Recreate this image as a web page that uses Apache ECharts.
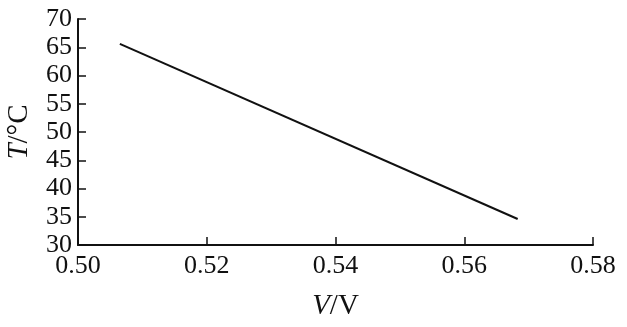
<!DOCTYPE html>
<html>
<head>
<meta charset="utf-8">
<script src="https://cdn.jsdelivr.net/npm/echarts@6/dist/echarts.min.js"></script>
<style>
  html, body { margin: 0; padding: 0; background: #fff; }
  #chart { width: 627px; height: 327px; }
</style>
</head>
<body>
<div id="chart"></div>
<script>
// voltage (V) vs temperature (°C)
var voltage = [0.5065, 0.5683];
var temperature = [65.6, 34.6];

var xTicks = { min: 0.50, max: 0.58, step: 0.02 };
var yTicks = { min: 30, max: 70, step: 5 };

var font = "'Liberation Serif', 'Times New Roman', serif";
var chart = echarts.init(document.getElementById('chart'));

var option = {
  backgroundColor: '#fff',
  animation: false,
  grid: { left: 78, right: 34, top: 19, bottom: 82, outerBoundsMode: 'none', containLabel: false },
  xAxis: {
    type: 'value',
    min: xTicks.min, max: xTicks.max, interval: xTicks.step,
    name: '{i|V}/V',
    nameLocation: 'middle',
    nameGap: 47,
    nameTextStyle: {
      fontFamily: font, fontSize: 29, color: '#111',
      rich: { i: { fontFamily: font, fontSize: 29, fontStyle: 'italic', color: '#111' } }
    },
    axisLine: { lineStyle: { color: '#111', width: 2 } },
    axisTick: { inside: true, length: 8, lineStyle: { color: '#111', width: 1.5 } },
    axisLabel: {
      fontFamily: font, fontSize: 26, color: '#111', margin: 8,
      formatter: function (v) { return v.toFixed(2); }
    },
    splitLine: { show: false }
  },
  yAxis: {
    type: 'value',
    min: yTicks.min, max: yTicks.max, interval: yTicks.step,
    name: '{i|T}/°C',
    nameLocation: 'middle',
    nameRotate: 90,
    nameGap: 44,
    nameTextStyle: {
      fontFamily: font, fontSize: 29, color: '#111',
      rich: { i: { fontFamily: font, fontSize: 29, fontStyle: 'italic', color: '#111' } }
    },
    axisLine: { show: true, lineStyle: { color: '#111', width: 2 } },
    axisTick: { show: true, inside: true, length: 8, lineStyle: { color: '#111', width: 1.5 } },
    axisLabel: { fontFamily: font, fontSize: 26, color: '#111', margin: 6 },
    splitLine: { show: false }
  },
  series: [{
    type: 'line',
    data: voltage.map(function (v, i) { return [v, temperature[i]]; }),
    showSymbol: false,
    lineStyle: { color: '#111', width: 2 }
  }]
};

chart.setOption(option);
</script>
</body>
</html>
